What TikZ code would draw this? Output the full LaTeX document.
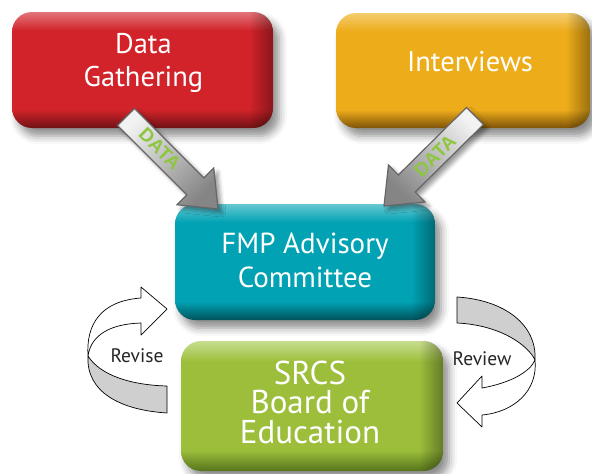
\documentclass[tikz,border=0pt]{standalone}
\usepackage{fontspec}
\setmainfont{PT Sans}
\newfontfamily\datafont{Liberation Sans}
\usetikzlibrary{calc,shadows.blur,fadings}
\definecolor{redbase}{HTML}{D2232A}
\definecolor{redtop}{HTML}{E2747A}
\definecolor{reddark}{HTML}{6E1216}
\definecolor{yelbase}{HTML}{EDAC1A}
\definecolor{yeltop}{HTML}{F4CD6E}
\definecolor{yeldark}{HTML}{7E5308}
\definecolor{tealbase}{HTML}{00A2B3}
\definecolor{tealtop}{HTML}{66C8D3}
\definecolor{tealdark}{HTML}{00525C}
\definecolor{grnbase}{HTML}{9CBE3B}
\definecolor{grntop}{HTML}{C7DD8F}
\definecolor{grndark}{HTML}{56741C}
\definecolor{datagreen}{HTML}{8DC63F}
\pgfdeclareverticalshading{redshade}{100bp}{color(0bp)=(reddark); color(25bp)=(reddark); color(33bp)=(redbase); color(67bp)=(redbase); color(75bp)=(redtop); color(100bp)=(redtop)}
\pgfdeclareverticalshading{yelshade}{100bp}{color(0bp)=(yeldark); color(25bp)=(yeldark); color(33bp)=(yelbase); color(67bp)=(yelbase); color(75bp)=(yeltop); color(100bp)=(yeltop)}
\pgfdeclareverticalshading{tealshade}{100bp}{color(0bp)=(tealdark); color(25bp)=(tealdark); color(33bp)=(tealbase); color(67bp)=(tealbase); color(75bp)=(tealtop); color(100bp)=(tealtop)}
\pgfdeclareverticalshading{grnshade}{100bp}{color(0bp)=(grndark); color(25bp)=(grndark); color(33bp)=(grnbase); color(67bp)=(grnbase); color(75bp)=(grntop); color(100bp)=(grntop)}
\tikzfading[name=fadetoright, left color=transparent!100, right color=transparent!0]
\newcommand{\edgedark}[1]{%
  \begin{scope}
    \clip[rounded corners=20pt] (#1.south west) rectangle (#1.north east);
    \fill[black, path fading=fadetoright, fill opacity=.35] ([xshift=-24pt]#1.north east) rectangle (#1.south east);
  \end{scope}}
\newcommand{\blockarrow}[3]{%
  \coordinate (#1base) at ($(#2)!32pt!(#1)$);
  \draw[dataarrow, shading angle=#3]
    ($(#1)!12pt!90:(#2)$) -- ($(#1base)!12pt!90:(#2)$) -- ($(#1base)!26pt!90:(#2)$)
    -- (#2) -- ($(#1base)!26pt!-90:(#2)$) -- ($(#1base)!12pt!-90:(#2)$)
    -- ($(#1)!12pt!-90:(#2)$) -- cycle;}
\tikzset{
  box/.style={rectangle, rounded corners=20pt, inner sep=0pt, shade,
    blur shadow={shadow xshift=6pt, shadow yshift=-8pt, shadow blur radius=8pt, shadow opacity=45}},
  boxtext/.style={text=white, align=center, anchor=base, inner sep=0pt},
  dataarrow/.style={draw=black!60, line width=1.2pt, shade, top color=white!95!black, bottom color=black!48,
    blur shadow={shadow xshift=4pt, shadow yshift=-4pt, shadow blur radius=4pt, shadow opacity=40}},
  datalabel/.style={text=datagreen, inner sep=0pt},
  twist/.style={draw=black, line width=0.7pt, line join=round},
  loopword/.style={text=black!85, font=\fontsize{19.5}{19.5}\selectfont, inner sep=0pt, anchor=base},
}
\begin{document}
\begin{tikzpicture}[x=1pt, y=-1pt]
\useasboundingbox (0,0) rectangle (592,474);
% boxes
\node[box, shading=redshade, minimum width=261pt, minimum height=116pt] (gather) at (142.5,70) {};
\node[box, shading=yelshade, minimum width=254pt, minimum height=115pt] (interv) at (463,70.5) {};
\node[box, shading=tealshade, minimum width=260pt, minimum height=116pt] (fmp) at (305,262) {};
\node[box, shading=grnshade, minimum width=262pt, minimum height=130pt] (srcs) at (312,406) {};
\edgedark{gather}
\edgedark{interv}
\edgedark{fmp}
\edgedark{srcs}
% box texts (anchor base = baseline of last line)
\node[boxtext, font=\fontsize{28.5}{33}\selectfont] (gatherT) at (143.5,86) {Data\\Gathering};
\node[boxtext, font=\fontsize{28.5}{33}\selectfont] (intervT) at (470,71) {Interviews};
\node[boxtext, font=\fontsize{29}{34}\selectfont] (fmpT) at (305,287) {FMP Advisory\\Committee};
\node[boxtext, font=\fontsize{33}{29.5}\selectfont] (srcsT) at (310,443) {SRCS\\Board of\\Education};
% data arrows
\coordinate (dgTail) at (126,117);
\coordinate (dgTip) at (218,209);
\coordinate (ivTail) at (475,116);
\coordinate (ivTip) at (384,206);
\blockarrow{dgTail}{dgTip}{45}
\blockarrow{ivTail}{ivTip}{-45}
\node[datalabel, rotate=-45] (dgLab) at (160,149) {\datafont\fontsize{19}{19}\selectfont\bfseries DATA};
\node[datalabel, rotate=45] (ivLab) at (435,156) {\datafont\fontsize{19}{19}\selectfont\bfseries DATA};
% revise loop
\draw[twist, fill=white] (167,309) -- (141,287) -- (141,298)
  .. controls (100,301) and (86,325) .. (88,356)
  .. controls (91,335) and (110,324) .. (141,323) -- (141,335) -- cycle;
\draw[twist, fill=black!19] (88,356) .. controls (100,375) and (130,385) .. (167,386)
  -- (167,413) .. controls (120,410) and (86,392) .. cycle;
\node[loopword] (revise) at (137,362) {Revise};
% review loop
\draw[twist, fill=black!19] (457,297) .. controls (505,300) and (537,325) .. (535,360)
  .. controls (528,345) and (500,325) .. (457,323) -- cycle;
\draw[twist, fill=white] (535,360) .. controls (538,390) and (515,412) .. (482,415)
  -- (482,427) -- (457,403) -- (482,376) -- (482,388)
  .. controls (510,383) and (530,372) .. cycle;
\node[loopword] (review) at (482,365) {Review};
\end{tikzpicture}
\end{document}
